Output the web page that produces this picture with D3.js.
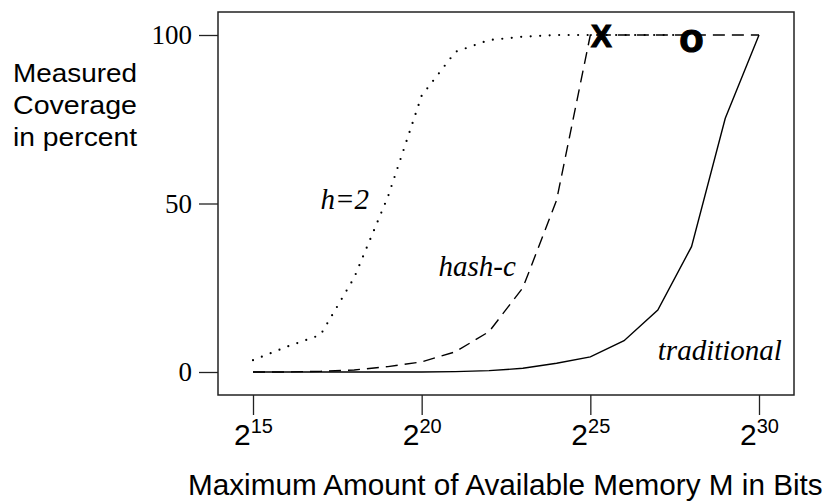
<!DOCTYPE html>
<html>
<head>
<meta charset="utf-8">
<script src="https://cdn.jsdelivr.net/npm/d3@7"></script>
<style>
  body { margin: 0; background: #fff; }
</style>
</head>
<body>
<div id="chart"></div>
<script>
// exponents of 2 on the x axis
const exps = [15, 16, 17, 18, 19, 20, 21, 22, 23, 24, 25, 26, 27, 28, 29, 30];
const xTicks = [15, 20, 25, 30];
const yTicks = [0, 50, 100];

// coverage in percent
const h2 = [3.5, 7.5, 11, 28, 52, 82, 95, 98.5, 99.5, 100, 100, 100, 100, 100];
const hashC = [0, 0, 0.2, 0.6, 1.6, 3, 6, 12, 25, 51, 100, 100, 100, 100, 100, 100];
const traditional = [0, 0, 0, 0, 0, 0, 0.1, 0.4, 1.1, 2.6, 4.5, 9.3, 18.4, 37.2, 75.3, 100];

const markers = [
    { e: 25.33, v: 100, t: "X", size: 31, dy: 12 },
    { e: 28.0, v: 100, t: "o", size: 40, dy: 17 }
];
const labels = [
    { e: 17.0, v: 48.5, t: "h=2" },
    { e: 20.5, v: 28.5, t: "hash-c" },
    { e: 27.0, v: 3.5, t: "traditional" }
];
const yTitleLines = ["Measured", "Coverage", "in percent"];

const svg = d3.select("#chart").append("svg")
    .attr("width", 824)
    .attr("height", 504);

const x = d3.scaleLinear().domain([15, 30]).range([253, 759]);
const y = d3.scaleLinear().domain([0, 100]).range([372, 35]);

// frame
svg.append("rect")
    .attr("x", 218).attr("y", 12)
    .attr("width", 576).attr("height", 383)
    .attr("fill", "none")
    .attr("stroke", "#222")
    .attr("stroke-width", 1.5);

// y axis
const yAxis = svg.append("g")
    .attr("transform", "translate(218,0)")
    .call(d3.axisLeft(y).tickValues(yTicks).tickSize(19).tickPadding(7));
yAxis.select(".domain").remove();
yAxis.selectAll("line").attr("stroke", "#222").attr("stroke-width", 1.3);
yAxis.selectAll("text")
    .attr("font-family", "'Liberation Serif', 'Times New Roman', serif")
    .attr("font-size", 27)
    .attr("fill", "#000");

// x axis, labels as 2^n
const xAxis = svg.append("g")
    .attr("transform", "translate(0,395)")
    .call(d3.axisBottom(x).tickValues(xTicks).tickSize(20).tickFormat(""));
xAxis.select(".domain").remove();
xAxis.selectAll("line").attr("stroke", "#222").attr("stroke-width", 1.3);
xAxis.selectAll(".tick").each(function(d) {
    const t = d3.select(this).append("text")
        .attr("y", 50)
        .attr("text-anchor", "middle")
        .attr("font-family", "'Liberation Sans', Arial, sans-serif")
        .attr("font-size", 30)
        .attr("fill", "#000");
    t.append("tspan").text("2");
    t.append("tspan").attr("font-size", 20).attr("dy", -12).text(d);
});

const line = d3.line()
    .x((d, i) => x(exps[i]))
    .y(d => y(d));

svg.append("path")
    .attr("d", line(traditional))
    .attr("fill", "none")
    .attr("stroke", "#000")
    .attr("stroke-width", 1.4);

svg.append("path")
    .attr("d", line(hashC))
    .attr("fill", "none")
    .attr("stroke", "#000")
    .attr("stroke-width", 1.4)
    .attr("stroke-dasharray", "12,7");

svg.append("path")
    .attr("d", line(h2))
    .attr("fill", "none")
    .attr("stroke", "#000")
    .attr("stroke-width", 2.2)
    .attr("stroke-linecap", "round")
    .attr("stroke-dasharray", "0,9.5");

// end markers
svg.selectAll(".marker")
    .data(markers)
    .enter().append("text")
    .attr("x", d => x(d.e))
    .attr("y", d => y(d.v) + d.dy)
    .attr("text-anchor", "middle")
    .attr("font-family", "'Liberation Sans', Arial, sans-serif")
    .attr("font-weight", "bold")
    .attr("font-size", d => d.size)
    .attr("stroke", "#000")
    .attr("stroke-width", 1.2)
    .text(d => d.t);

// curve labels
svg.selectAll(".lbl")
    .data(labels)
    .enter().append("text")
    .attr("x", d => x(d.e))
    .attr("y", d => y(d.v))
    .attr("font-family", "'Liberation Serif', 'Times New Roman', serif")
    .attr("font-style", "italic")
    .attr("font-size", 29)
    .text(d => d.t);

// axis titles
const yTitle = svg.append("text")
    .attr("font-family", "'Liberation Sans', Arial, sans-serif")
    .attr("font-size", 25);
yTitleLines.forEach((s, i) => {
    yTitle.append("tspan")
        .attr("x", 13).attr("y", 82 + i * 32)
        .attr("textLength", 124)
        .attr("lengthAdjust", "spacingAndGlyphs")
        .text(s);
});

svg.append("text")
    .attr("x", 188)
    .attr("y", 495)
    .attr("font-family", "'Liberation Sans', Arial, sans-serif")
    .attr("font-size", 29.7)
    .text("Maximum Amount of Available Memory M in Bits");
</script>
</body>
</html>
